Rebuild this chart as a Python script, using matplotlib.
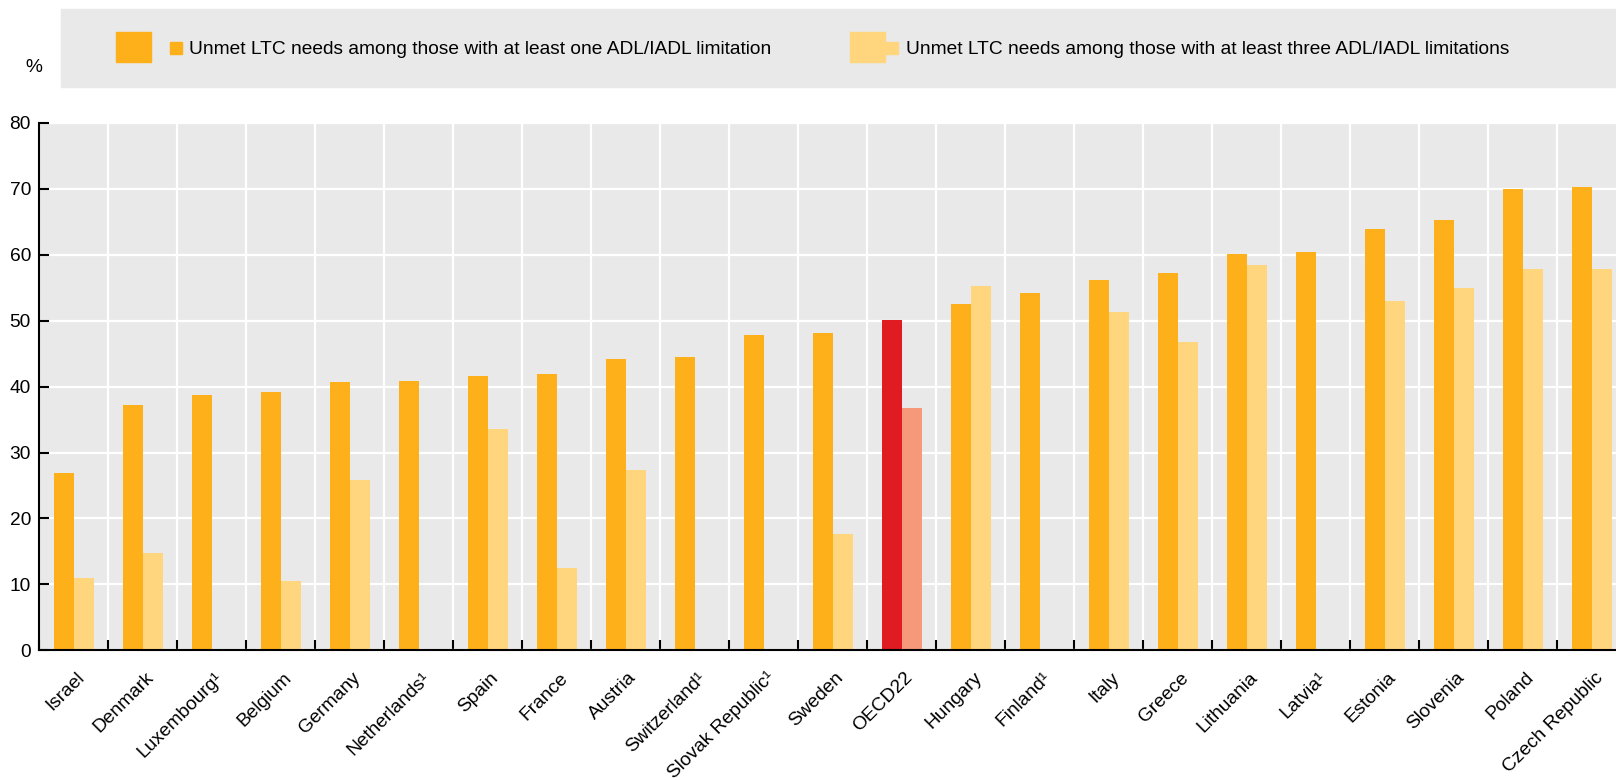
import numpy as np
import matplotlib
matplotlib.use("Agg")
import matplotlib.pyplot as plt
from matplotlib.patches import Rectangle
from matplotlib.transforms import ScaledTranslation

plt.rcParams['font.family'] = ['Liberation Sans Narrow', 'Liberation Sans', 'DejaVu Sans']

countries = ["Israel", "Denmark", "Luxembourg¹", "Belgium", "Germany", "Netherlands¹",
             "Spain", "France", "Austria", "Switzerland¹", "Slovak Republic¹", "Sweden",
             "OECD22", "Hungary", "Finland¹", "Italy", "Greece", "Lithuania", "Latvia¹",
             "Estonia", "Slovenia", "Poland", "Czech Republic"]
one_plus = [26.9, 37.2, 38.7, 39.2, 40.7, 40.85, 41.6, 41.9, 44.2, 44.5, 47.8, 48.1,
            50.1, 52.6, 54.2, 56.2, 57.25, 60.1, 60.4, 63.9, 65.3, 70.0, 70.3]
three_plus = [10.95, 14.75, None, 10.5, 25.8, None, 33.55, 12.5, 27.35, None, None, 17.6,
              36.75, 55.3, None, 51.3, 46.8, 58.4, None, 53.0, 55.0, 57.85, 57.85]
label_one = "Unmet LTC needs among those with at least one ADL/IADL limitation"
label_three = "Unmet LTC needs among those with at least three ADL/IADL limitations"

ORANGE = '#FDB01A'
LIGHT = '#FFD67D'
RED = '#E01B22'
SALMON = '#F6997A'
GREY = '#E9E9E9'
FS = 13.75

fig = plt.figure(figsize=(16.16, 7.8), dpi=100)
W, H = 1616, 780
# axes runs slightly past the right edge, like the reference
ax = fig.add_axes([39.3 / W, (H - 650.2) / H, 1587 / W, 527.2 / H])
ax.set_facecolor(GREY)

x = np.arange(len(countries))
bw = 0.29
oecd = countries.index("OECD22")
c1 = [RED if i == oecd else ORANGE for i in x]
ax.bar(x - bw / 2, one_plus, bw, color=c1, zorder=3)
idx = [i for i in x if three_plus[i] is not None]
ax.bar(x[idx] + bw / 2, [three_plus[i] for i in idx], bw,
       color=[SALMON if i == oecd else LIGHT for i in idx], zorder=3)

ax.set_xlim(-0.5, len(countries) - 0.5)
ax.set_ylim(0, 80)
ax.set_yticks(np.arange(0, 81, 10))
ax.set_xticks(np.arange(-0.5, len(countries), 1))
ax.set_xticklabels([])
ax.set_xticks(x, minor=True)
ax.set_xticklabels(countries, minor=True, rotation=45, ha='right', va='center',
                   rotation_mode='anchor', fontsize=FS)
ax.tick_params(axis='x', which='minor', length=0, pad=18)
ax.tick_params(axis='both', which='major', direction='in', length=7, width=1.5,
               labelsize=FS, color='black')
ax.tick_params(axis='y', pad=6)
for lab in ax.get_xticklabels(minor=True):
    lab.set_transform(lab.get_transform() + ScaledTranslation(6 / 72, 0, fig.dpi_scale_trans))

ax.grid(True, which='major', color='white', lw=1.6, zorder=0)
ax.set_axisbelow(True)
for s in ['top', 'right']:
    ax.spines[s].set_visible(False)
for s in ['left', 'bottom']:
    ax.spines[s].set_linewidth(1.5)
    ax.spines[s].set_zorder(4)

# legend band
def px(x0, y0, w, h, color):
    fig.patches.append(Rectangle((x0 / W, 1 - (y0 + h) / H), w / W, h / H,
                                 transform=fig.transFigure, color=color, zorder=0))

px(61, 9, W - 61, 78, GREY)
px(116, 32, 35, 30, ORANGE)
px(170, 42, 12, 12, ORANGE)
fig.text(189 / W, 1 - 50 / H, label_one, fontsize=FS, va='center', ha='left')
px(850, 32, 35, 30, LIGHT)
px(886, 42, 12, 12, LIGHT)
fig.text(906 / W, 1 - 50 / H, label_three, fontsize=FS, va='center', ha='left')
fig.text(34 / W, 1 - 67 / H, "%", fontsize=FS, va='center', ha='center')

fig.savefig("out.png", dpi=100)
